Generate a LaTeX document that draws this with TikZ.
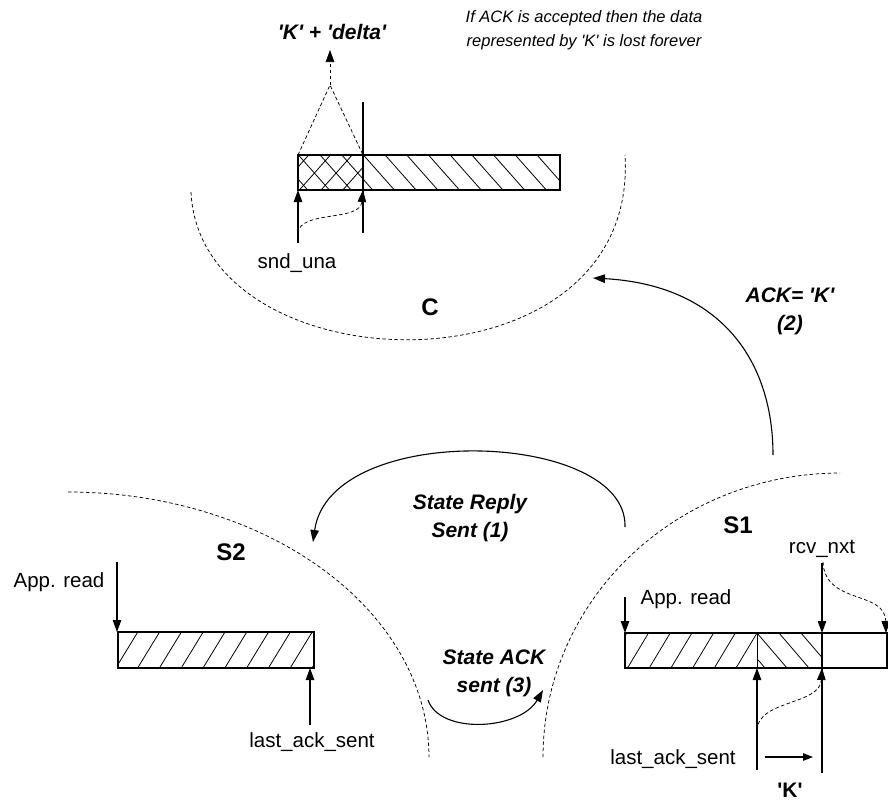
\documentclass[tikz,border=0pt]{standalone}
\usepackage{fontspec}
\setmainfont{Liberation Sans}[Ligatures=TeXOff]
\usetikzlibrary{arrows.meta}

\tikzset{
  conn/.style={line width=1.1pt, -{Triangle[length=12pt,width=8.5pt]}},
  smallconn/.style={line width=1.1pt, -{Triangle[length=10pt,width=7.5pt]}},
  plain/.style={line width=1.1pt},
  faint/.style={line width=0.75pt, dash pattern=on 3.5pt off 2.5pt},
  faintarrow/.style={faint, -{Triangle[length=12pt,width=8.5pt]}},
  bar/.style={line width=1.3pt},
  hatchline/.style={line width=0.8pt},
  lbl/.style={font=\fontsize{20.5}{24}\selectfont, inner sep=0pt},
  region/.style={font=\fontsize{24}{28}\selectfont\bfseries, inner sep=0pt},
  msg/.style={font=\fontsize{21}{28}\selectfont\bfseries\itshape, align=center, inner sep=0pt},
  offsetlbl/.style={font=\fontsize{21}{28}\selectfont\bfseries, inner sep=0pt},
  note/.style={font=\fontsize{16.5}{24.5}\selectfont\itshape, align=center, inner sep=0pt},
}

% hatching of a strip: clip box (x1,y1)-(x2,y2), first line top x, spacing, horizontal run
\newcommand{\hatchfill}[7]{%
  \begin{scope}
    \clip (#1,#2) rectangle (#3,#4);
    \foreach \k in {0,...,30}
      \draw[hatchline] ({#5+\k*#6},#2) -- ++(#7,{#4-#2});
  \end{scope}}

\begin{document}
\begin{tikzpicture}[x=1pt,y=-1pt]
\useasboundingbox (0,0) rectangle (888,804);

% ---------------- texts ----------------
\node[note] (remark) at (584,30) {If ACK is accepted then the data\\represented by 'K' is lost forever};
\node[msg] (kdelta) at (332,32) {'K' + 'delta'};
\node[lbl] (sndlbl) at (297,263) {snd\_una};
\node[region] (cname) at (430,307) {C};
\node[msg] (acklbl) at (790,311) {ACK= 'K'\\(2)};
\node[msg] (replylbl) at (470,518) {State Reply\\Sent (1)};
\node[msg] (acksent) at (494,673) {State ACK\\sent (3)};
\node[region] (s2name) at (231,552) {S2};
\node[region] (s1name) at (738,525) {S1};
\node[lbl] (appL) at (59,582) {App. read};
\node[lbl] (appR) at (686,599) {App. read};
\node[lbl] (rcvlbl) at (822,549) {rcv\_nxt};
\node[lbl] (lastL) at (312,742) {last\_ack\_sent};
\node[lbl] (lastR) at (673,759) {last\_ack\_sent};
\node[offsetlbl] (kmark) at (790,790) {'K'};

% ---------------- host regions (dashed outlines) ----------------
\draw[faint] (191,192) .. controls (200,390) and (640,400) .. (625,155);
\draw[faint] plot[domain=-90:0, samples=60] ({68+361*cos(\x)},{757+265*sin(\x)});
\draw[faint] plot[domain=-180:-90, samples=60] ({840+297*cos(\x)},{757+284*sin(\x)});

% ---------------- sender window (C) ----------------
\hatchfill{298}{155}{363}{190}{255}{21.7}{31}
\hatchfill{298}{155}{363}{190}{287}{21.7}{-31}
\hatchfill{363}{155}{560}{190}{320}{21.7}{31}
\draw[bar] (298,155) rectangle (560,190);

\coordinate (apex) at (330,85);
\coordinate (kdtip) at (330,50);
\coordinate (cl) at (298,155);
\coordinate (cr) at (363,155);
\coordinate (sepTop) at (363,102);
\coordinate (sepBot) at (363,233);
\coordinate (sndTail) at (298,243);
\coordinate (sndTip) at (298,190);
\coordinate (sndCurve) at (298,233);
\coordinate (sepTip) at (363,190);

\draw[faint] (cl) -- (apex) -- (cr);
\draw[faintarrow] (apex) -- (kdtip);
\draw[plain] (sepTop) -- (sepBot);
\draw[conn] (sndTail) -- (sndTip);
\draw[faintarrow] (sndCurve) .. controls (300,210) and (360,222) .. (sepTip);

% ---------------- receiver window S2 ----------------
\hatchfill{118}{632}{314}{668}{116}{21.8}{-22}
\draw[bar] (118,632) rectangle (314,668);
\coordinate (appLTail) at (117,562);
\coordinate (appLTip) at (117,632);
\coordinate (lastLTail) at (310,725);
\coordinate (lastLTip) at (310,668);
\draw[conn] (appLTail) -- (appLTip);
\draw[conn] (lastLTail) -- (lastLTip);

% ---------------- receiver window S1 ----------------
\hatchfill{625}{633}{757}{668}{605.1}{21.7}{-21}
\hatchfill{757}{633}{822}{668}{713}{22}{30}
\draw[hatchline] (757,633) -- (757,668);
\draw[bar] (625,633) rectangle (887,668);

\coordinate (appRTail) at (625,597);
\coordinate (appRTip) at (625,633);
\coordinate (rcvTop) at (822,563);
\coordinate (rcvIn) at (822,633);
\coordinate (rcvBot) at (822,773);
\coordinate (rcvOut) at (822,668);
\coordinate (rcvCurve) at (823,562);
\coordinate (endTip) at (886,633);
\coordinate (lastRTail) at (757,770);
\coordinate (lastRTip) at (757,668);
\coordinate (lastRCurve) at (757,730);
\coordinate (kFrom) at (765,757);
\coordinate (kTo) at (813,757);

\draw[conn] (appRTail) -- (appRTip);
\draw[conn] (rcvTop) -- (rcvIn);
\draw[plain] (rcvIn) -- (rcvBot);
\draw[faintarrow] (rcvCurve) .. controls (825,605) and (885,590) .. (endTip);
\draw[conn] (lastRTail) -- (lastRTip);
\draw[faintarrow] (lastRCurve) .. controls (758,700) and (820,705) .. (rcvOut);
\draw[smallconn] (kFrom) -- (kTo);

% ---------------- messages ----------------
\coordinate (ackFrom) at (773,455);
\coordinate (ackTo) at (593,278);
\draw[conn] (ackFrom) .. controls (773,360) and (720,285) .. (ackTo);

\coordinate (replyFrom) at (625,527);
\coordinate (replyTo) at (313,542);
\draw[conn] (replyFrom) .. controls (628,430) and (330,420) .. (replyTo);

\coordinate (stFrom) at (428,700);
\coordinate (stTo) at (543,690);
\draw[conn] (stFrom) .. controls (440,735) and (520,730) .. (stTo);

\end{tikzpicture}
\end{document}
